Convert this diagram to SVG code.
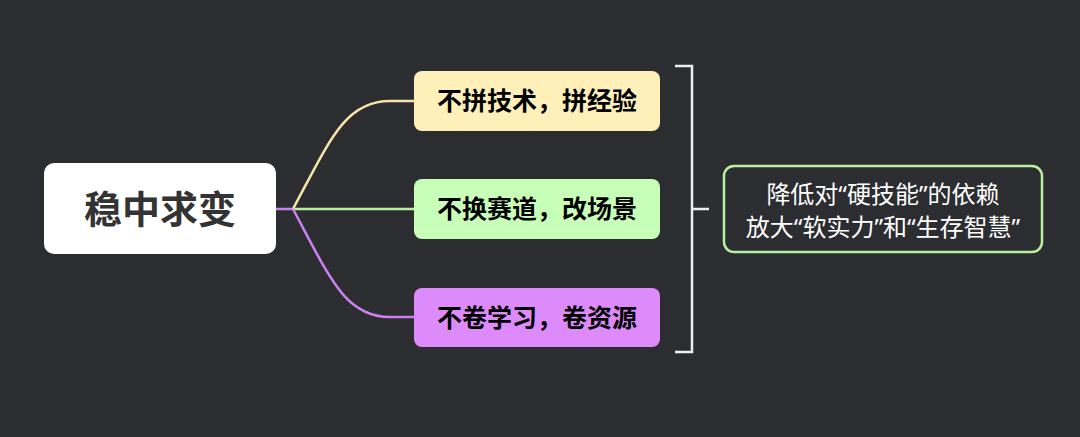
<svg xmlns="http://www.w3.org/2000/svg" width="1080" height="437" viewBox="0 0 1080 437">
<style>
.cjk{font-family:"Noto Sans CJK SC","Noto Sans",sans-serif;}
.sum{font-family:"Noto Sans","Noto Sans CJK SC",sans-serif;font-size:24px;fill:#ffffff;text-anchor:middle;}
.lbl{font-size:25px;font-weight:bold;fill:#000;text-anchor:middle;}
.conn{fill:none;stroke-width:2.5;}
</style>
<rect width="1080" height="437" fill="#2c2d31"/>
<g id="connectors">
<path class="conn" d="M276,209 L293,209" stroke="#cc80f0"/>
<path class="conn" d="M293,209 C330,140 345,101 390,101 L414,101" stroke="#f5e6a8"/>
<path class="conn" d="M293,209 L414,209" stroke="#b8f0a0"/>
<path class="conn" d="M293,209 C330,278 345,317 390,317 L414,317" stroke="#cc80f0"/>
<path class="conn" d="M675,66 L692,66 L692,352 L675,352 M692,209 L709,209" stroke="#eeeeee"/>
</g>
<g id="center">
<rect x="44" y="163" width="232" height="91" rx="10" fill="#ffffff"/>
<text x="160" y="223" class="cjk" font-size="38" font-weight="bold" fill="#333333" text-anchor="middle">稳中求变</text>
</g>
<g id="node1">
<rect x="414" y="71" width="246" height="60" rx="8" fill="#fff0ba"/>
<text x="537" y="110" class="cjk lbl">不拼技术，拼经验</text>
</g>
<g id="node2">
<rect x="414" y="179" width="246" height="60" rx="8" fill="#c8ffb8"/>
<text x="537" y="218" class="cjk lbl">不换赛道，改场景</text>
</g>
<g id="node3">
<rect x="414" y="288" width="246" height="59" rx="8" fill="#dd8bfb"/>
<text x="537" y="327" class="cjk lbl">不卷学习，卷资源</text>
</g>
<g id="summary">
<rect x="724" y="166" width="318" height="86" rx="10" fill="#2c2d31" stroke="#b8f0a0" stroke-width="2.5"/>
<text x="883" y="203" class="sum">降低对“硬技能”的依赖</text>
<text x="883" y="236" class="sum">放大“软实力”和“生存智慧”</text>
</g>
</svg>
